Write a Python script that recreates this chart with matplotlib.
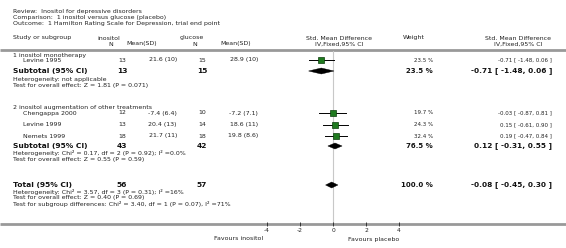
import matplotlib
matplotlib.use("Agg")
import matplotlib.pyplot as plt
from matplotlib.patches import Polygon

# datos del forest plot
studies = ["Levine 1995", "Chengappa 2000", "Levine 1999", "Nemets 1999"]
ino_n = [13, 12, 13, 18]
ino_msd = ["21.6 (10)", "-7.4 (6.4)", "20.4 (13)", "21.7 (11)"]
glu_n = [15, 10, 14, 18]
glu_msd = ["28.9 (10)", "-7.2 (7.1)", "18.6 (11)", "19.8 (8.6)"]
smd = [-0.71, -0.03, 0.15, 0.19]
lo = [-1.48, -0.87, -0.61, -0.47]
hi = [0.06, 0.81, 0.90, 0.84]
weight = [23.5, 19.7, 24.3, 32.4]

sub_names = ["Subtotal (95% CI)", "Subtotal (95% CI)", "Total (95% CI)"]
sub_ino_n = [13, 43, 56]
sub_glu_n = [15, 42, 57]
sub_smd = [-0.71, 0.12, -0.08]
sub_lo = [-1.48, -0.31, -0.45]
sub_hi = [0.06, 0.55, 0.30]
sub_weight = [23.5, 76.5, 100.0]

ticks = [-4, -2, 0, 2, 4]

# filas (pixel y desde arriba)
study_rows = [60, 113, 124.5, 136]
sub_rows = [71, 146, 185]

W, H = 566, 248
fig = plt.figure(figsize=(W / 100, H / 100), dpi=100)
ax = fig.add_axes([0, 0, 1, 1])
ax.set_xlim(0, W)
ax.set_ylim(H, 0)
ax.axis("off")

txt = "#222222"
fs = 4.5
def t(x, y, s, ha="left", size=fs, bold=False, color=txt):
    ax.text(x, y, s, ha=ha, va="center", fontsize=size,
            fontweight="bold" if bold else "normal", color=color)

# cabecera
t(13, 12, "Review:  Inositol for depressive disorders")
t(13, 18, "Comparison:  1 inositol versus glucose (placebo)")
t(13, 24, "Outcome:  1 Hamilton Rating Scale for Depression, trial end point")
t(13, 38, "Study or subgroup")
t(97, 38, "inositol")
t(111, 44, "N", ha="center")
t(157, 44, "Mean(SD)", ha="right")
t(180, 38, "glucose")
t(195, 44, "N", ha="center")
t(251, 44, "Mean(SD)", ha="right")
t(339, 38, "Std. Mean Difference", ha="center")
t(339, 44, "IV,Fixed,95% CI", ha="center")
t(414, 38, "Weight", ha="center")
t(518, 38, "Std. Mean Difference", ha="center")
t(518, 44, "IV,Fixed,95% CI", ha="center")

ax.plot([0, W], [49.5, 49.5], color="#999999", lw=2, solid_capstyle="butt")
ax.plot([0, W], [224, 224], color="#999999", lw=2, solid_capstyle="butt")

t(13, 55, "1 inositol monotherapy")
t(13, 107, "2 inositol augmentation of other treatments")

for i in range(len(studies)):
    y = study_rows[i]
    t(23, y, studies[i])
    t(122, y, str(ino_n[i]), ha="center")
    t(177, y, ino_msd[i], ha="right")
    t(202, y, str(glu_n[i]), ha="center")
    t(258, y, glu_msd[i], ha="right")
    t(433, y, "%.1f %%" % weight[i], ha="right", size=4.0)
    t(552, y, "%.2f [ %.2f, %.2f ]" % (smd[i], lo[i], hi[i]), ha="right", size=4.0)

for i in range(len(sub_names)):
    y = sub_rows[i]
    t(13, y, sub_names[i], size=5.4, bold=True, color="#111111")
    t(122, y, str(sub_ino_n[i]), ha="center", size=5.4, bold=True, color="#111111")
    t(202, y, str(sub_glu_n[i]), ha="center", size=5.4, bold=True, color="#111111")
    t(433, y, "%.1f %%" % sub_weight[i], ha="right", size=5, bold=True, color="#111111")
    t(552, y, "%.2f [ %.2f, %.2f ]" % (sub_smd[i], sub_lo[i], sub_hi[i]),
      ha="right", size=5.3, bold=True, color="#111111")

t(13, 79, "Heterogeneity: not applicable")
t(13, 85, "Test for overall effect: Z = 1.81 (P = 0.071)")
t(13, 153, "Heterogeneity: Chi\u00b2 = 0.17, df = 2 (P = 0.92); I\u00b2 =0.0%")
t(13, 159, "Test for overall effect: Z = 0.55 (P = 0.59)")
t(13, 192, "Heterogeneity: Chi\u00b2 = 3.57, df = 3 (P = 0.31); I\u00b2 =16%")
t(13, 198, "Test for overall effect: Z = 0.40 (P = 0.69)")
t(13, 204, "Test for subgroup differences: Chi\u00b2 = 3.40, df = 1 (P = 0.07), I\u00b2 =71%")

t(263, 239, "Favours inositol", ha="right")
t(348, 239, "Favours placebo")

# eje del forest plot
fax = fig.add_axes([267 / W, (H - 224) / H, 132 / W, 224 / H])
fax.set_xlim(-4, 4)
fax.set_ylim(224, 0)
fax.patch.set_alpha(0)
for s in fax.spines.values():
    s.set_visible(False)
fax.set_yticks([])
fax.set_xticks(ticks)
fax.set_xticklabels([str(v) for v in ticks])
fax.tick_params(axis="x", direction="inout", length=3, width=0.6, pad=1.5,
                labelsize=4.3, colors="#222222")
fax.plot([0, 0], [50.5, 222], color="#c8c8c8", lw=0.8, zorder=1)

for i in range(len(studies)):
    y = study_rows[i]
    fax.plot([lo[i], hi[i]], [y, y], color="black", lw=0.7, zorder=2)
    fax.plot(smd[i], y, marker="s", ms=weight[i] ** 0.5 * 0.85,
             mfc="#1f7a1f", mec="#0b3d0b", mew=0.5, zorder=3)

for i in range(len(sub_names)):
    y = sub_rows[i]
    d = Polygon([[sub_lo[i], y], [sub_smd[i], y - 3], [sub_hi[i], y], [sub_smd[i], y + 3]],
                closed=True, facecolor="black", edgecolor="black", lw=0.3, zorder=3)
    fax.add_patch(d)

fig.savefig("out.png", dpi=100)
